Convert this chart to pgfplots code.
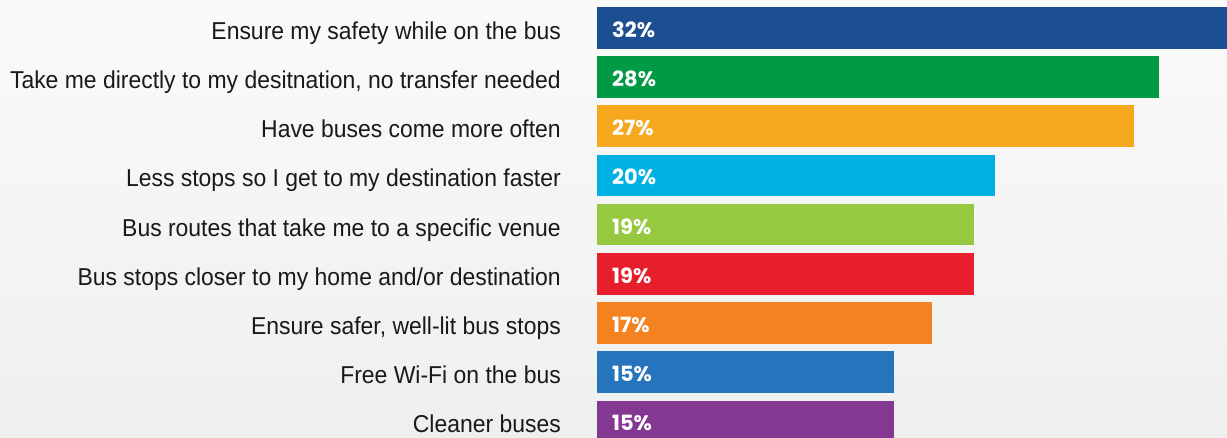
\documentclass[border=0pt]{standalone}
\usepackage{pgfplots}
\pgfplotsset{compat=1.18}
\usepackage{fontspec}
\newfontfamily\labelfont[FakeStretch=0.94]{Liberation Sans}
\newfontfamily\pctfont{Poppins}
\definecolor{c1}{RGB}{28,79,145}
\definecolor{c2}{RGB}{0,154,68}
\definecolor{c3}{RGB}{245,168,30}
\definecolor{c4}{RGB}{0,178,227}
\definecolor{c5}{RGB}{150,201,63}
\definecolor{c6}{RGB}{231,31,45}
\definecolor{c7}{RGB}{245,130,32}
\definecolor{c8}{RGB}{38,116,188}
\definecolor{c9}{RGB}{133,56,146}
\definecolor{bgtop}{RGB}{250,250,250}
\definecolor{bgbot}{RGB}{238,239,239}
\begin{document}
\begin{tikzpicture}
\shade[top color=bgtop, bottom color=bgbot] (0pt,0pt) rectangle (1227pt,438pt);
\begin{axis}[
  at={(597pt,0pt)}, anchor=south west,
  scale only axis, width=630pt, height=438pt,
  xmin=0, xmax=31.74, ymin=-0.566, ymax=8.336,
  y dir=reverse, enlargelimits=false,
  xbar, bar width=0.847, bar shift=0pt,
  axis lines*=left, axis line style={draw=none},
  major tick length=0pt,
  xtick=\empty,
  ytick={0,1,2,3,4,5,6,7,8},
  yticklabels={Ensure my safety while on the bus,
    {Take me directly to my desitnation, no transfer needed},
    Have buses come more often,
    Less stops so I get to my destination faster,
    Bus routes that take me to a specific venue,
    Bus stops closer to my home and/or destination,
    {Ensure safer, well-lit bus stops},
    Free Wi-Fi on the bus,
    Cleaner buses},
  yticklabel style={font=\labelfont\fontsize{24.4}{28}\selectfont, text=black!90, anchor=base east, inner sep=0pt, xshift=-36pt, yshift=-11.5pt},
]
\addplot[fill=c1, draw=none] coordinates {(32.5,0)};
\addplot[fill=c2, draw=none] coordinates {(28.31,1)};
\addplot[fill=c3, draw=none] coordinates {(27.05,2)};
\addplot[fill=c4, draw=none] coordinates {(20.05,3)};
\addplot[fill=c5, draw=none] coordinates {(18.99,4)};
\addplot[fill=c6, draw=none] coordinates {(18.99,5)};
\addplot[fill=c7, draw=none] coordinates {(16.88,6)};
\addplot[fill=c8, draw=none] coordinates {(14.95,7)};
\addplot[fill=c9, draw=none] coordinates {(14.95,8)};
\addplot[draw=none, mark=none, forget plot,
  nodes near coords, point meta=explicit symbolic,
  every node near coord/.append style={font=\pctfont\bfseries\fontsize{21}{24}\selectfont, text=white, anchor=base west, inner sep=0pt, xshift=15pt, yshift=-9.5pt}]
  coordinates {(0,0)[32\%] (0,1)[28\%] (0,2)[27\%] (0,3)[20\%] (0,4)[19\%] (0,5)[19\%] (0,6)[17\%] (0,7)[15\%] (0,8)[15\%]};
\end{axis}
\pgfresetboundingbox
\path (0pt,0pt) rectangle (1227pt,438pt);
\end{tikzpicture}
\end{document}
